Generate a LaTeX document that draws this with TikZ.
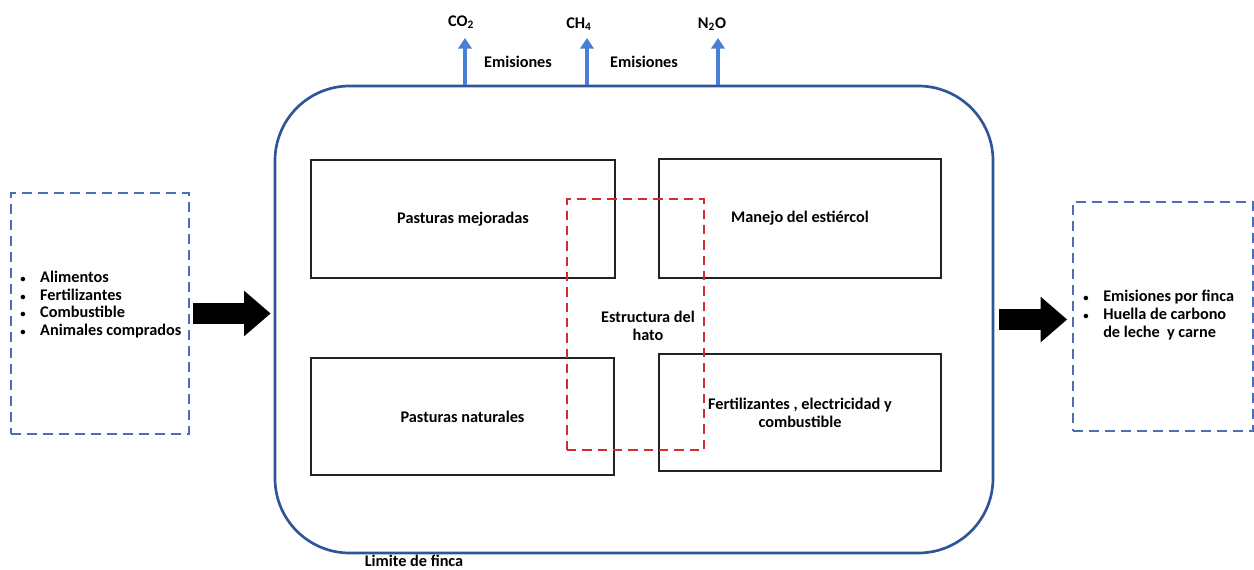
\documentclass[tikz,border=0pt]{standalone}
\usepackage{fontspec}
\setmainfont{Carlito}
\usepackage{xcolor}
\usetikzlibrary{arrows.meta, positioning}

\definecolor{fincablue}{HTML}{2F5597}
\definecolor{dashblue}{HTML}{4A6FB5}
\definecolor{gasblue}{HTML}{4A7FD6}
\definecolor{hatored}{HTML}{D42B2B}
\definecolor{boxgray}{HTML}{222222}

\newlength\pxu
\setlength\pxu{0.75pt}
\newcommand{\punto}{{\fontsize{8}{8}\selectfont\textbullet}}

\begin{document}
\begin{tikzpicture}[x=0.75pt, y=-0.75pt,
        every node/.style={font=\bfseries\fontsize{12.2}{13.3}\selectfont, inner sep=0pt},
        caja/.style={draw=boxgray, line width=1.2pt, align=center},
        limite/.style={draw=fincablue, line width=2pt, rounded corners=56pt},
        flujo/.style={draw=dashblue, line width=1.2pt, dash pattern=on 7.5pt off 4.5pt},
        hatobox/.style={draw=hatored, line width=1.2pt, dash pattern=on 7pt off 4.5pt},
        gas/.style={draw=gasblue, line width=2.6pt, -{Triangle[length=8pt 0, width=10pt 0]}},
        flecha/.style={line width=16pt, -{Triangle[length=20pt 0, width=33pt 0]}}]
        \useasboundingbox (0,0) rectangle (1254,570);

        % limite de la finca
        \node[limite, minimum width=718\pxu, minimum height=467\pxu] (finca) at (634,319.5) {};
        \node (lim) at (414,561) {Limite de finca};

        % componentes
        \node[caja, minimum width=304\pxu, minimum height=118\pxu] (pm)  at (463,219)   {Pasturas mejoradas};
        \node[caja, minimum width=282\pxu, minimum height=119\pxu] (me)  at (800,218.5) {Manejo del estiércol};
        \node[caja, minimum width=303\pxu, minimum height=117\pxu] (pn)  at (462.5,416.5) {Pasturas naturales};
        \node[caja, minimum width=282\pxu, minimum height=117\pxu] (fec) at (800,412.5) {Fertilizantes , electricidad y\\combustible};
        \node[hatobox, minimum width=137\pxu, minimum height=251\pxu] (hato) at (635.5,324.5) {};
        \node[align=center] (hatotxt) at (648,326) {Estructura del\\hato};

        % entradas y salidas
        \node[flujo, minimum width=178\pxu, minimum height=241\pxu] (inbox)  at (100,313.5) {};
        \node[flujo, minimum width=180\pxu, minimum height=229\pxu] (outbox) at (1163,316.5) {};
        \node[anchor=west] (inlist) at (20,305.5) {\begin{tabular}{@{}l@{\hspace{11pt}}l@{}}
                \punto & Alimentos\\
                \punto & Fertilizantes\\
                \punto & Combustible\\
                \punto & Animales comprados
            \end{tabular}};
        \node[anchor=west] (outlist) at (1083,316) {\begin{tabular}{@{}l@{\hspace{11pt}}l@{}}
                \punto & Emisiones por finca\\
                \punto & Huella de carbono\\
                       & de leche\ \ y carne
            \end{tabular}};

        % gases
        \node (co2) at (461,22) {CO\textsubscript{2}};
        \node (ch4) at (579,24) {CH\textsubscript{4}};
        \node (n2o) at (712,24) {N\textsubscript{2}O};
        \node (em1) at (518,62) {Emisiones};
        \node (em2) at (644,62) {Emisiones};

        \draw[gas] (finca.north -| 465,0) -- (465,38);
        \draw[gas] (finca.north -| 587,0) -- (587,38);
        \draw[gas] (finca.north -| 718,0) -- (718,38);

        \draw[flecha, shorten <=3\pxu, shorten >=3\pxu] (inbox.east) -- (inbox.east -| finca.west);
        \draw[flecha, shorten <=5\pxu, shorten >=5\pxu] (finca.east) -- (finca.east -| outbox.west);
\end{tikzpicture}
\end{document}
